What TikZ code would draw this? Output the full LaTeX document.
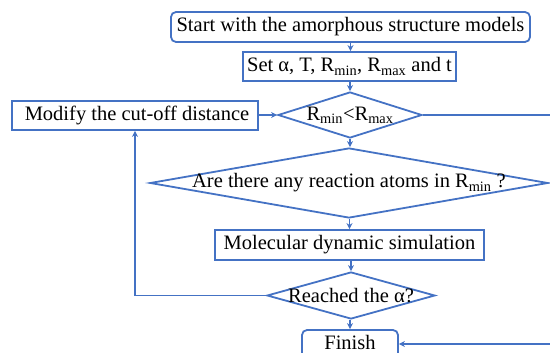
\documentclass[tikz,border=0pt]{standalone}
\usepackage{fontspec}
\setmainfont{Liberation Serif}
\usetikzlibrary{shapes.geometric,arrows.meta}
\definecolor{flowblue}{RGB}{68,114,196}
\tikzset{
  flowline/.style={draw=flowblue, line width=1.8pt},
  flowarrow/.style={flowline, -{Stealth[length=6pt,width=6pt]}},
  stepbox/.style={flowline, rectangle, inner sep=0pt},
  roundbox/.style={flowline, rectangle, rounded corners=5pt, inner sep=0pt},
  decision/.style={flowline, diamond, inner sep=0pt},
  label text/.style={font=\fontsize{20.5}{22}\selectfont, inner sep=0pt}
}
\newcommand{\Rsub}[1]{R\textsubscript{#1}}
\begin{document}
\begin{tikzpicture}[x=1pt,y=-1pt]
\useasboundingbox (0,0) rectangle (550,353);
\clip (0,0) rectangle (550,353);

% boxes
\node[roundbox, minimum width=359pt, minimum height=30pt] (start) at (350.5,27) {};
\node[label text] at (start) {Start with the amorphous structure models};

\node[stepbox, minimum width=213pt, minimum height=29pt] (set) at (349.5,66.5) {};
\node[label text] at (set) {Set α, T, \Rsub{min}, \Rsub{max} and t};

\node[decision, minimum width=144pt, minimum height=46pt] (cmp) at (350,115) {};
\node[label text] at (cmp) {\Rsub{min}<\Rsub{max}};

\node[stepbox, minimum width=246pt, minimum height=29pt] (modify) at (135,115.5) {};
\node[label text] at (137,115.5) {Modify the cut-off distance};

\node[decision, minimum width=398pt, minimum height=70pt] (react) at (349,183) {};
\node[label text] at (react) {Are there any reaction atoms in \Rsub{min} ?};

\node[stepbox, minimum width=269pt, minimum height=30pt] (md) at (349.5,245) {};
\node[label text] at (md) {Molecular dynamic simulation};

\node[decision, minimum width=168pt, minimum height=47pt] (alpha) at (351,295.5) {};
\node[label text] at (alpha) {Reached the α?};

\node[roundbox, minimum width=96pt, minimum height=28pt] (finish) at (350,344) {};
\node[label text, anchor=base] at (350,349.5) {Finish};

% connectors
\draw[flowarrow] (start.south) -- (start.south |- set.north);
\draw[flowarrow] (set.south -| cmp.north) -- (cmp.north);
\draw[flowarrow] (cmp.south) -- (cmp.south |- react.north);
\draw[flowarrow] (modify.east |- cmp.west) -- (cmp.west);
\draw[flowarrow] (react.south -| md.north) -- (md.north);
\draw[flowarrow] (md.south -| alpha.north) -- (alpha.north);
\draw[flowarrow] (alpha.south -| finish.north) -- (finish.north);
\draw[flowarrow] (alpha.west) -| (modify.south);
\coordinate (rightrail) at (562,115);
\draw[flowarrow] (cmp.east) -- (rightrail) |- (finish.east);
\end{tikzpicture}
\end{document}
